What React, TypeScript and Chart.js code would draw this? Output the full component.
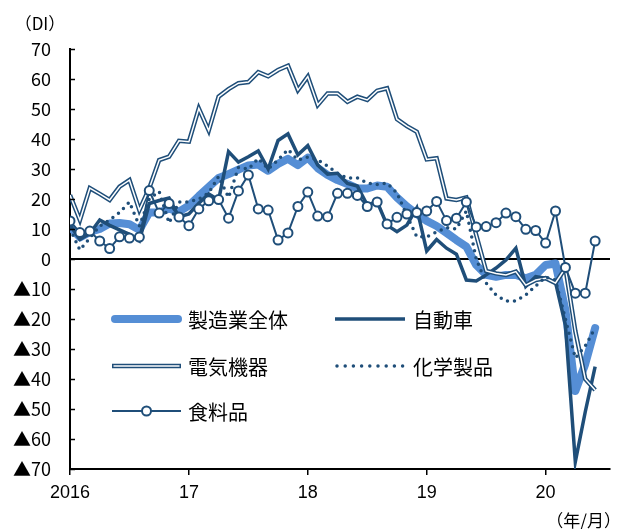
import React, { useEffect, useRef } from 'react';
import { Chart, registerables } from 'chart.js';
Chart.register(...registerables);

// Monthly DI, 2016/1 – 2020/6
const manufacturing = [
  10.8, 7.2, 9.0, 10.0, 11.8, 12.0, 11.6, 9.7, 15.5, 15.5, 16.8, 15.8,
  17.8, 21.0, 24.0, 27.0, 28.3, 29.8, 31.2, 31.5, 29.4, 31.7, 33.4, 31.3,
  33.8, 30.3, 28.0, 26.3, 25.0, 23.5, 23.5, 24.5, 24.1, 20.5, 17.5, 15.0,
  12.7, 11.0, 8.7, 6.3, 4.1, -2.0, -5.3, -5.9, -5.3, -5.3, -6.4, -5.3,
  -2.0, -1.5, -17.0, -44.0, -35.0, -23.0,
];
const automobile = [
  11.3, 6.5, 8.5, 13.0, 11.2, 9.7, 8.2, 6.0, 18.5, 19.5, 20.3, 14.0,
  15.0, 18.6, 21.7, 19.7, 35.8, 32.3, 34.1, 36.0, 30.0, 39.5, 41.7, 34.7,
  37.8, 31.3, 28.3, 28.6, 25.2, 24.3, 18.0, 19.1, 11.3, 9.1, 11.3, 17.0,
  2.7, 6.5, 3.6, 1.6, -7.0, -7.3, -5.3, -3.0, -0.3, 3.6, -9.1, -5.9,
  -6.4, -7.8, -22.0, -67.6, -51.0, -35.9,
];
const electrical = [
  21.3, 13.0, 23.6, 21.7, 19.7, 24.1, 26.3, 16.3, 23.6, 33.0, 34.1, 39.4,
  39.1, 50.2, 42.8, 54.1, 56.6, 58.6, 59.0, 62.3, 60.9, 63.0, 64.4, 56.3,
  60.8, 51.3, 55.2, 55.2, 52.4, 54.1, 53.0, 56.1, 56.9, 46.6, 44.3, 42.4,
  33.2, 33.6, 20.2, 19.7, 20.5, 8.0, -4.0, -4.8, -5.3, -4.2, -8.7, -7.0,
  -6.4, -8.0, -3.0, -24.0, -40.0, -43.7,
];
const chemical = [
  10.0, 3.0, 7.0, 11.0, 13.0, 15.5, 19.0, 11.0, 20.0, 22.5, 12.0, 19.0,
  19.0, 20.0, 22.0, 27.5, 20.5, 30.5, 30.0, 33.5, 30.0, 33.0, 36.5, 33.0,
  34.0, 33.0, 31.0, 28.5, 27.0, 27.0, 25.3, 24.8, 25.3, 22.0, 14.5, 7.4,
  7.4, 9.0, 10.5, 10.0, 16.0, 0.0, -8.0, -12.0, -14.0, -14.0, -12.0, -9.0,
  -6.0, -7.0, -20.0, -33.0, -29.0, -23.0,
];
const food = [
  12.7, 8.8, 9.3, 6.0, 3.5, 7.4, 7.0, 7.3, 22.8, 15.3, 18.5, 14.0,
  11.1, 16.7, 19.4, 19.8, 13.6, 22.7, 28.0, 16.7, 16.3, 6.3, 8.7, 17.5,
  22.3, 14.3, 14.1, 21.9, 21.9, 21.2, 17.5, 19.0, 11.7, 13.9, 15.0, 15.5,
  16.0, 19.2, 12.8, 13.6, 19.0, 10.7, 10.8, 12.1, 15.3, 14.1, 9.9, 9.5,
  5.3, 16.0, -2.8, -11.4, -11.4, 6.0,
];

const yearTickLabels = ['2016', '17', '18', '19', '20'];
const yearTickIndex = [0, 12, 24, 36, 48];
const seriesNames = ['製造業全体', '自動車', '電気機器', '化学製品', '食料品'];

const NAVY = '#1F4E79';
const LIGHT = '#558ED5';
const NUM_FONT = '"Liberation Sans", "Noto Sans CJK JP", sans-serif';
const JP_FONT = '"Noto Sans CJK JP", sans-serif';

const pts = (arr: number[]) => arr.map((v, i) => ({ x: i, y: v }));

const extrasPlugin = {
  id: 'extras',
  afterDraw(chart: any) {
    const { ctx, chartArea, scales } = chart;
    const ys = scales.y;
    ctx.save();
    ctx.strokeStyle = '#000';
    ctx.lineWidth = 1.5;
    for (let v = -70; v <= 70; v += 10) {
      const y = Math.round(ys.getPixelForValue(v)) + 0.5;
      ctx.beginPath();
      ctx.moveTo(chartArea.left, y);
      ctx.lineTo(chartArea.left + 5, y);
      ctx.stroke();
    }
    ctx.fillStyle = '#000';
    ctx.font = `17px ${JP_FONT}`;
    ctx.textBaseline = 'middle';
    ctx.textAlign = 'center';
    ctx.fillText('（DI）', 40, 24);
    ctx.textAlign = 'right';
    ctx.fillText('（年/月）', 621, 521);

    const rows = [319, 366, 411];
    const cols = [{ l: 112, r: 181, t: 188 }, { l: 335, r: 405, t: 413 }];
    const items = [
      { name: seriesNames[0], kind: 'manuf', c: 0, r: 0 },
      { name: seriesNames[1], kind: 'car', c: 1, r: 0 },
      { name: seriesNames[2], kind: 'elec', c: 0, r: 1 },
      { name: seriesNames[3], kind: 'chem', c: 1, r: 1 },
      { name: seriesNames[4], kind: 'food', c: 0, r: 2 },
    ];
    items.forEach((it) => {
      const c = cols[it.c];
      const y = rows[it.r];
      ctx.setLineDash([]);
      ctx.lineCap = 'butt';
      if (it.kind === 'manuf') {
        ctx.strokeStyle = LIGHT;
        ctx.lineWidth = 8;
        ctx.lineCap = 'round';
        ctx.beginPath(); ctx.moveTo(c.l + 3, y); ctx.lineTo(c.r - 3, y); ctx.stroke();
      } else if (it.kind === 'car') {
        ctx.strokeStyle = NAVY;
        ctx.lineWidth = 3.5;
        ctx.beginPath(); ctx.moveTo(c.l, y); ctx.lineTo(c.r, y); ctx.stroke();
      } else if (it.kind === 'elec') {
        ctx.strokeStyle = NAVY;
        ctx.lineWidth = 4.5;
        ctx.beginPath(); ctx.moveTo(c.l, y); ctx.lineTo(c.r, y); ctx.stroke();
        ctx.strokeStyle = '#fff';
        ctx.lineWidth = 1.5;
        ctx.beginPath(); ctx.moveTo(c.l + 1.5, y); ctx.lineTo(c.r - 1.5, y); ctx.stroke();
      } else if (it.kind === 'chem') {
        ctx.strokeStyle = NAVY;
        ctx.lineWidth = 3.5;
        ctx.lineCap = 'round';
        ctx.setLineDash([0, 8.2]);
        ctx.beginPath(); ctx.moveTo(c.l + 2, y); ctx.lineTo(c.r, y); ctx.stroke();
        ctx.setLineDash([]);
      } else {
        ctx.strokeStyle = NAVY;
        ctx.lineWidth = 2;
        ctx.beginPath(); ctx.moveTo(c.l, y); ctx.lineTo(c.r, y); ctx.stroke();
        ctx.fillStyle = '#fff';
        ctx.beginPath(); ctx.arc((c.l + c.r) / 2, y, 4.5, 0, Math.PI * 2); ctx.fill(); ctx.stroke();
      }
      ctx.fillStyle = '#000';
      ctx.font = `20px ${JP_FONT}`;
      ctx.textAlign = 'left';
      ctx.textBaseline = 'middle';
      ctx.fillText(it.name, c.t, y + 1);
    });
    ctx.restore();
  },
};

export default function App() {
  const ref = useRef<HTMLCanvasElement>(null);
  useEffect(() => {
    const chart = new Chart(ref.current as HTMLCanvasElement, {
      type: 'line',
      data: {
        datasets: [
          {
            label: seriesNames[4], data: pts(food), order: 0,
            borderColor: NAVY, borderWidth: 2, pointRadius: 4.5,
            pointBackgroundColor: '#fff', pointBorderColor: NAVY, pointBorderWidth: 2,
          },
          {
            label: seriesNames[3], data: pts(chemical), order: 1,
            borderColor: NAVY, borderWidth: 3.5, borderDash: [0, 7], borderCapStyle: 'round',
            pointRadius: 0,
          },
          {
            label: seriesNames[2] + '_inner', data: pts(electrical), order: 2,
            borderColor: '#fff', borderWidth: 1.5, pointRadius: 0,
          },
          {
            label: seriesNames[2], data: pts(electrical), order: 3,
            borderColor: NAVY, borderWidth: 4.5, pointRadius: 0,
          },
          {
            label: seriesNames[1], data: pts(automobile), order: 4,
            borderColor: NAVY, borderWidth: 3.5, pointRadius: 0,
          },
          {
            label: seriesNames[0], data: pts(manufacturing), order: 5,
            borderColor: LIGHT, borderWidth: 8, borderCapStyle: 'round', borderJoinStyle: 'round',
            pointRadius: 0,
          },
        ] as any,
      },
      options: {
        animation: false,
        responsive: true,
        maintainAspectRatio: false,
        layout: { padding: { top: 49, right: 11, left: 0, bottom: 0 } },
        plugins: { legend: { display: false }, tooltip: { enabled: false } },
        elements: { line: { tension: 0 } },
        scales: {
          x: {
            type: 'linear',
            min: 0,
            max: 54.5,
            afterFit: (s: any) => { s.height = 60; },
            afterBuildTicks: (s: any) => { s.ticks = yearTickIndex.map((v) => ({ value: v })); },
            border: { color: '#000', width: 2 },
            grid: { drawOnChartArea: false, drawTicks: true, tickLength: 6, color: '#000', lineWidth: 1.5 },
            ticks: {
              autoSkip: false, maxRotation: 0, padding: 7, color: '#000',
              font: { family: NUM_FONT, size: 18 },
              callback: (v: any) => yearTickLabels[yearTickIndex.indexOf(Number(v))] ?? '',
            },
          },
          y: {
            min: -70,
            max: 70,
            afterFit: (s: any) => { s.width = 70; },
            border: { color: '#000', width: 2 },
            grid: {
              drawTicks: false,
              color: (c: any) => (c.tick && c.tick.value === 0 ? '#000' : 'rgba(0,0,0,0)'),
              lineWidth: 2,
            },
            ticks: {
              stepSize: 10, padding: 19, color: '#000',
              font: { family: JP_FONT, size: 18 },
              callback: (v: any) => (Number(v) < 0 ? '▲' + String(-Number(v)) : String(v)),
            },
          },
        },
      },
      plugins: [extrasPlugin],
    } as any);
    return () => chart.destroy();
  }, []);
  return (
    <div style={{ position: 'fixed', left: 0, top: 0, width: 621, height: 529, background: '#fff' }}>
      <canvas ref={ref} />
    </div>
  );
}
